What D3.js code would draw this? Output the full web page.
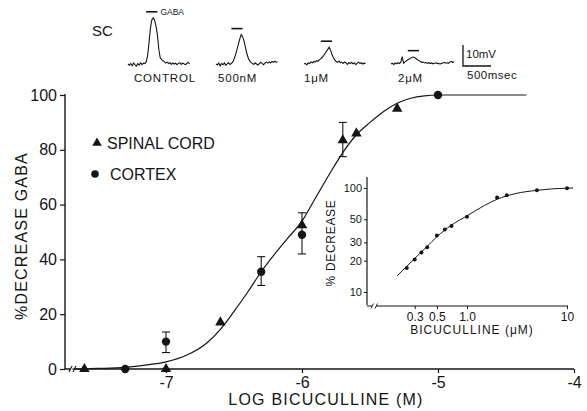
<!DOCTYPE html>
<html><head><meta charset="utf-8">
<script src="https://cdn.jsdelivr.net/npm/d3@7"></script>
<style>
html,body{margin:0;padding:0;background:#fff;}
svg{display:block;font-family:"Liberation Sans",Arial,sans-serif;}
</style></head><body>
<svg id="c" width="587" height="411"></svg>
<script>
// ---------- main plot data ----------
const xTickValues = [-7, -6, -5, -4];
const xTickLabels = ["-7", "-6", "-5", "-4"];
const yTickValues = [0, 20, 40, 60, 80, 100];
const spinalLog = [-7.6, -7.0, -6.6, -6.0, -5.7, -5.6, -5.3];
const spinalPct = [0, 0, 17, 52.5, 83.5, 86, 95];
const cortexLog = [-7.3, -7.0, -6.3, -6.0, -5.0];
const cortexPct = [0, 10, 35.5, 49, 100];
const errLog = [-7.0, -6.3, -6.0, -5.7];
const errLow = [6, 30.5, 42, 77.5];
const errHigh = [13.5, 41, 57, 90];
const fitLog = [-7.69, -7.5, -7.3, -7.15, -7.0, -6.85, -6.7, -6.6, -6.5, -6.4, -6.3, -6.2, -6.1, -6.0, -5.9, -5.8, -5.7, -5.6, -5.5, -5.4, -5.3, -5.2, -5.1, -5.0, -4.35];
const fitPct = [0, 0.2, 0.6, 1.4, 2.6, 5, 9.5, 14.5, 21, 28, 35.5, 42, 48, 54, 62.5, 71, 79, 85.5, 90, 94, 97, 98.8, 99.7, 100, 100];
const legendLabels = ["SPINAL CORD", "CORTEX"];

// ---------- inset data ----------
const insetConc = [0.25, 0.3, 0.35, 0.4, 0.5, 0.6, 0.7, 1.0, 2.0, 2.5, 5.0, 10];
const insetPct = [17, 20.5, 24, 27, 35, 40, 43, 53, 81, 85, 95, 99.5];
const insetFitConc = [0.2, 0.3, 0.4, 0.5, 0.7, 1.0, 1.5, 2.0, 3.0, 5.0, 7.0, 10, 11.5];
const insetFitPct = [14.3, 21, 27.5, 34, 44, 54, 68, 78, 88, 95, 98, 99.5, 100];
const insetYTicks = [10, 20, 30, 50, 100];
const insetYTickLabels = ["10", "20", "30", "50", "100"];
const insetXTicks = [0.3, 0.5, 1.0, 10];
const insetXTickLabels = ["0.3", "0.5", "1.0", "10"];

// ---------- recordings (mV, one sample every 25 ms) ----------
const traceLabels = ["CONTROL", "500nM", "1\u03BCM", "2\u03BCM"];
const traceControl = [0,-0.6,0.3,-0.8,0.5,-0.4,-1.0,0.2,-0.5,0.6,-0.3,0.4,0.2,1.0,4,10,17,21,22,21,18,14,7,3,2.2,1.6,1.0,0.4,0.9,0.2,0.6,-0.2,0.5,0,0.4,-0.3,0.3,0.6,-0.2,0.4,0.1,-0.4,0.3,0.8,0];
const trace500nM = [0,-0.5,0.4,-0.9,0.2,-0.3,0.5,-0.6,0.1,0.6,-0.2,0.3,1.0,2.5,4.5,7,9.5,12,14,13,11,8,5,3,1.5,0.8,0.3,-0.2,0.6,0,-0.5,0.3,0.8,0.2,-0.3,0.5,0.9,0.4,1.0,0.5,1.2,0.8,1.3,0.9,1.1];
const trace1uM = [0,0.3,-0.4,0.5,0.2,1.0,0.6,1.2,0.9,1.6,1.3,2.0,2.6,3.2,4.0,5.0,6.0,7.0,8.0,6.5,4.5,3.0,2.0,1.2,0.8,1.4,0.6,0.9,0.3,1.0,0.5,-0.2,0.6,0.2,0.8,0.1,0.5,-0.3,0.4,0.9,0.2,0.6,0.0,0.4,0.3];
const trace2uM = [0,0.4,-0.3,0.5,0.1,0.6,0.2,0.9,3.5,0.4,1.0,1.5,2.0,2.4,2.8,3.1,3.3,3.0,2.5,2.0,1.6,1.2,0.8,0.9,0.5,0.7,0.3,0.6,0.2,0.5,0.1,0.4,0.6,0.2,0.3,-0.1,0.3,0.5,0.8,0.4,0.6,0.3,0.9,1.2,0.8,1.0];
const gabaOnMs = [325, 275, 300, 300];
const gabaDurMs = 200;
const sampleMs = 25;

const svg = d3.select("#c");
const ink = "#151515";

// ================= MAIN PLOT =================
const x = d3.scaleLinear().domain([-7, -4]).range([166, 574]);
const y = d3.scaleLinear().domain([0, 100]).range([369, 95]);
const x0 = 65;

const g = svg.append("g");
// y axis
const yAxis = d3.axisLeft(y).tickValues(yTickValues).tickSize(5).tickPadding(3).tickFormat(d3.format("d"));
const ya = g.append("g").attr("transform", `translate(${x0},0)`).call(yAxis);
ya.select(".domain").remove();
ya.selectAll("line").attr("stroke", ink).attr("stroke-width", 1.2);
ya.selectAll("text").attr("font-size", 16).attr("fill", ink).attr("font-family", "Liberation Sans, Arial, sans-serif");
g.append("line").attr("x1", x0).attr("x2", x0).attr("y1", y(0)).attr("y2", y(100) - 1).attr("stroke", ink).attr("stroke-width", 1.4);

// x axis
const xAxis = d3.axisBottom(x).tickValues(xTickValues).tickSize(4).tickPadding(4).tickFormat((d, i) => xTickLabels[i]);
const xa = g.append("g").attr("transform", `translate(0,${y(0)})`).call(xAxis);
xa.select(".domain").remove();
xa.selectAll("line").attr("stroke", ink).attr("stroke-width", 1.2);
xa.selectAll("text").attr("font-size", 16).attr("fill", ink).attr("font-family", "Liberation Sans, Arial, sans-serif");
g.append("line").attr("x1", x0).attr("x2", x(-4)).attr("y1", y(0)).attr("y2", y(0)).attr("stroke", ink).attr("stroke-width", 1.4);
// axis break
g.append("rect").attr("x", 70).attr("y", y(0) - 3).attr("width", 5).attr("height", 6).attr("fill", "#fff");
[69, 73].forEach(bx => g.append("line").attr("x1", bx).attr("y1", y(0) + 3).attr("x2", bx + 3).attr("y2", y(0) - 3).attr("stroke", ink).attr("stroke-width", 1.1));

// axis titles
g.append("text").attr("x", 326).attr("y", 405).attr("text-anchor", "middle").attr("font-size", 16)
  .attr("letter-spacing", 1.2).attr("fill", ink).text("LOG BICUCULLINE (M)");
g.append("text").attr("transform", "translate(27,236) rotate(-90)").attr("text-anchor", "middle").attr("font-size", 16)
  .attr("letter-spacing", 1.2).attr("fill", ink).text("%DECREASE GABA");

// fitted curve
const line = d3.line().x(d => x(d[0])).y(d => y(d[1])).curve(d3.curveMonotoneX);
g.append("path").datum(fitLog.map((v, i) => [v, fitPct[i]])).attr("d", line)
  .attr("fill", "none").attr("stroke", ink).attr("stroke-width", 1.2);

// error bars
errLog.forEach((v, i) => {
  const cx = x(v);
  g.append("line").attr("x1", cx).attr("x2", cx).attr("y1", y(errLow[i])).attr("y2", y(errHigh[i])).attr("stroke", ink).attr("stroke-width", 1.1);
  [errLow[i], errHigh[i]].forEach(e => g.append("line").attr("x1", cx - 4).attr("x2", cx + 4).attr("y1", y(e)).attr("y2", y(e)).attr("stroke", ink).attr("stroke-width", 1.1));
});

// points
const tri = d3.symbol().type(d3.symbolTriangle).size(48);
spinalLog.forEach((v, i) => g.append("path").attr("d", tri).attr("transform", `translate(${x(v)},${y(spinalPct[i])})`).attr("fill", ink));
cortexLog.forEach((v, i) => g.append("circle").attr("cx", x(v)).attr("cy", y(cortexPct[i])).attr("r", 4.2).attr("fill", ink));

// legend
g.append("path").attr("d", d3.symbol().type(d3.symbolTriangle).size(40)).attr("transform", "translate(97,143)").attr("fill", ink);
g.append("text").attr("x", 107).attr("y", 149).attr("font-size", 16).attr("fill", ink).text(legendLabels[0]);
g.append("circle").attr("cx", 95).attr("cy", 174).attr("r", 3.8).attr("fill", ink);
g.append("text").attr("x", 110).attr("y", 180).attr("font-size", 16).attr("fill", ink).text(legendLabels[1]);

// ================= INSET =================
const xi = d3.scaleLog().domain([0.1, 10]).range([367, 567]);
const yi = d3.scaleLog().domain([10, 100]).range([292, 188]);
const ig = svg.append("g");
ig.append("line").attr("x1", 367).attr("x2", 367).attr("y1", 177).attr("y2", 305).attr("stroke", ink).attr("stroke-width", 1.2);
ig.append("line").attr("x1", 367).attr("x2", 568).attr("y1", 306).attr("y2", 306).attr("stroke", ink).attr("stroke-width", 1.1);
ig.append("rect").attr("x", 372).attr("y", 303).attr("width", 4).attr("height", 6).attr("fill", "#fff");
[371, 375].forEach(bx => ig.append("line").attr("x1", bx).attr("y1", 308.5).attr("x2", bx + 2.5).attr("y2", 303.5).attr("stroke", ink).attr("stroke-width", 0.9));
const iya = ig.append("g").attr("transform", "translate(367,0)")
  .call(d3.axisLeft(yi).tickValues(insetYTicks).tickSize(3).tickPadding(2).tickFormat((d, i) => insetYTickLabels[i]));
iya.select(".domain").remove();
iya.selectAll("line").attr("stroke", ink);
iya.selectAll("text").attr("font-size", 11).attr("fill", ink).attr("font-family", "Liberation Sans, Arial, sans-serif");
const ixa = ig.append("g").attr("transform", "translate(0,306)")
  .call(d3.axisBottom(xi).tickValues(insetXTicks).tickSize(3).tickPadding(3).tickFormat((d, i) => insetXTickLabels[i]));
ixa.select(".domain").remove();
ixa.selectAll("line").attr("stroke", ink);
ixa.selectAll("text").attr("font-size", 12).attr("fill", ink).attr("font-family", "Liberation Sans, Arial, sans-serif");
ig.append("text").attr("x", 472).attr("y", 334).attr("text-anchor", "middle").attr("font-size", 12)
  .attr("letter-spacing", 1).attr("fill", ink).text("BICUCULLINE (\u03BCM)");
ig.append("text").attr("transform", "translate(335,243) rotate(-90)").attr("text-anchor", "middle").attr("font-size", 12)
  .attr("letter-spacing", 0.7).attr("fill", ink).text("% DECREASE");
const iline = d3.line().x(d => xi(d[0])).y(d => yi(d[1])).curve(d3.curveMonotoneX);
ig.append("path").datum(insetFitConc.map((c, i) => [c, insetFitPct[i]])).attr("d", iline)
  .attr("fill", "none").attr("stroke", ink).attr("stroke-width", 1);
insetConc.forEach((c, i) => ig.append("circle").attr("cx", xi(c)).attr("cy", yi(insetPct[i])).attr("r", 2).attr("fill", ink));

// ================= RECORDINGS =================
const rg = svg.append("g");
const traces = [traceControl, trace500nM, trace1uM, trace2uM];
const traceX0 = [128, 216, 304, 391];
const baseY = 64;
const t = d3.scaleLinear().domain([0, 500]).range([0, 28]);
const v = d3.scaleLinear().domain([0, 10]).range([baseY, baseY - 21]);
traces.forEach((tr, k) => {
  const ox = traceX0[k];
  const tl = d3.line().x((d, i) => ox + t(i * sampleMs)).y(d => v(d));
  rg.append("path").datum(tr).attr("d", tl).attr("fill", "none").attr("stroke", ink).attr("stroke-width", 1.1);
  const peak = d3.max(tr);
  const by = v(peak) - 6;
  rg.append("line").attr("x1", ox + t(gabaOnMs[k])).attr("x2", ox + t(gabaOnMs[k] + gabaDurMs))
    .attr("y1", by).attr("y2", by).attr("stroke", ink).attr("stroke-width", 1.6);
  rg.append("text").attr("x", ox + [6, 2, 0, 7][k]).attr("y", 82).attr("font-size", 11.5)
    .attr("letter-spacing", 0.8).attr("fill", ink).text(traceLabels[k]);
});
// GABA label
rg.append("text").attr("x", traceX0[0] + t(gabaOnMs[0] + gabaDurMs) + 3).attr("y", v(d3.max(traceControl)) - 3)
  .attr("font-size", 8.5).attr("fill", ink).text("GABA");
// SC
rg.append("text").attr("x", 92).attr("y", 36).attr("font-size", 15).attr("fill", ink).text("SC");
// scale bar
const sbx = 463;
rg.append("path").attr("d", `M${sbx},${v(10) + 2}V${v(0) + 2}H${sbx + t(500)}`).attr("fill", "none").attr("stroke", ink).attr("stroke-width", 1.3);
rg.append("text").attr("x", sbx + 3).attr("y", v(3)).attr("font-size", 11.5).attr("fill", ink).text("10mV");
rg.append("text").attr("x", sbx + 4).attr("y", v(0) + 15).attr("font-size", 11.5).attr("letter-spacing", 0.5).attr("fill", ink).text("500msec");
</script>
</body></html>
